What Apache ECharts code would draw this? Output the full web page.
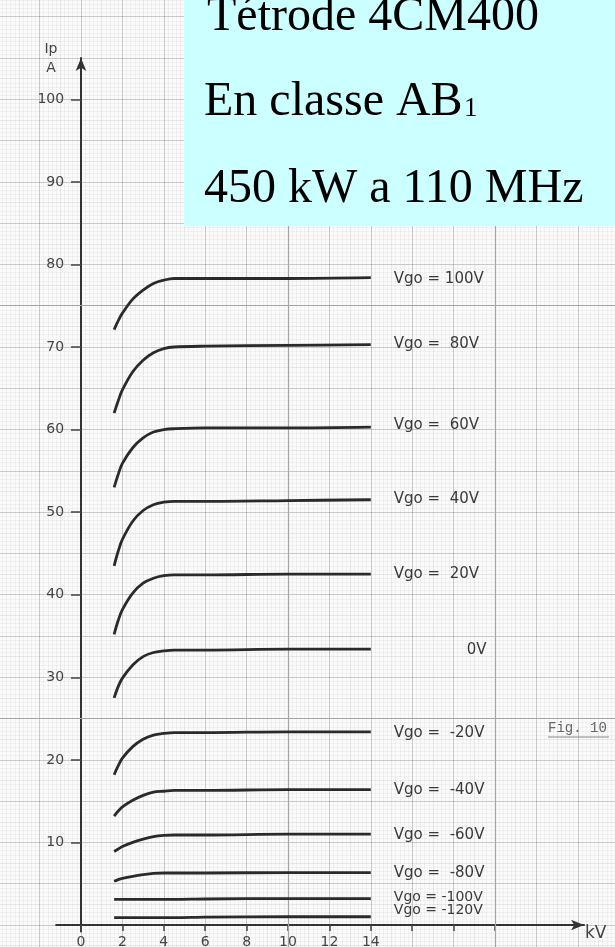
<!DOCTYPE html>
<html>
<head>
<meta charset="utf-8">
<script src="https://cdn.jsdelivr.net/npm/echarts@6/dist/echarts.min.js"></script>
<style>
html,body{margin:0;padding:0;background:#fafafa;}
#c{width:615px;height:947px;}
</style>
</head>
<body>
<div id="c"></div>
<script>
// ---- data ----
const kv = [1.6, 1.8, 2.0, 2.5, 3.0, 3.5, 4.0, 4.5, 6, 10, 14];
const ipP100 = [72.1, 73.2, 74.1, 75.8, 76.9, 77.7, 78.1, 78.3, 78.3, 78.3, 78.4];
const ipP80  = [62.0, 63.5, 64.8, 67.0, 68.4, 69.3, 69.8, 70.0, 70.1, 70.2, 70.3];
const ipP60  = [53.0, 54.6, 55.9, 57.8, 59.0, 59.7, 60.0, 60.1, 60.2, 60.2, 60.3];
const ipP40  = [43.5, 45.3, 46.7, 48.9, 50.2, 50.9, 51.2, 51.3, 51.3, 51.4, 51.5];
const ipP20  = [35.2, 36.9, 38.2, 40.2, 41.4, 42.0, 42.3, 42.4, 42.4, 42.5, 42.5];
const ip0    = [27.5, 28.9, 29.9, 31.5, 32.5, 33.0, 33.2, 33.3, 33.3, 33.4, 33.4];
const ipM20  = [18.2, 19.3, 20.2, 21.6, 22.5, 23.0, 23.2, 23.3, 23.3, 23.4, 23.4];
const ipM40  = [13.2, 13.8, 14.3, 15.1, 15.7, 16.1, 16.2, 16.3, 16.3, 16.4, 16.4];
const ipM60  = [8.9, 9.2, 9.5, 10.0, 10.4, 10.7, 10.85, 10.9, 10.9, 11.0, 11.0];
const ipM80  = [5.3, 5.5, 5.65, 5.9, 6.1, 6.25, 6.3, 6.3, 6.3, 6.35, 6.35];
const ipM100 = [3.1, 3.1, 3.1, 3.1, 3.1, 3.1, 3.1, 3.1, 3.15, 3.2, 3.2];
const ipM120 = [0.9, 0.9, 0.9, 0.9, 0.9, 0.9, 0.9, 0.9, 0.95, 1.0, 1.0];

const curves = [ipP100, ipP80, ipP60, ipP40, ipP20, ip0, ipM20, ipM40, ipM60, ipM80, ipM100, ipM120];
const curveLabels = ['Vgo = 100V', 'Vgo =  80V', 'Vgo =  60V', 'Vgo =  40V', 'Vgo =  20V', '0V',
  'Vgo =  -20V', 'Vgo =  -40V', 'Vgo =  -60V', 'Vgo =  -80V', 'Vgo = -100V', 'Vgo = -120V'];

const xTickValues = [0, 2, 4, 6, 8, 10, 12, 14, 16, 18, 20];
const xLabelValues = [0, 2, 4, 6, 8, 10, 12, 14];
const yTickValues = [10, 20, 30, 40, 50, 60, 70, 80, 90, 100];

const titleLines = ['Tétrode 4CM400', 'En classe AB', '1', '450 kW a 110 MHz'];
const figLabel = 'Fig. 10';

// ---- layout (pixel mapping) ----
const X0 = 81, KX = 20.7, Y0 = 925, KY = 8.257;
function rect(xmin, xmax, ymin, ymax) {
  return { left: X0 + xmin * KX, top: Y0 - ymax * KY, width: (xmax - xmin) * KX, height: (ymax - ymin) * KY, outerBoundsMode: 'none', containLabel: false };
}
const MAIN = { xmin: -1.2, xmax: 24.3, ymin: -0.8, ymax: 105 };
const BG = { xmin: -4, xmax: 26, ymin: -5, ymax: 115 };

const labelStyle = [
  { d: 23, o: [0, 1] }, { d: 23, o: [0, 0] }, { d: 23, o: [0, -2] }, { d: 23, o: [0, -1] },
  { d: 23, o: [0, 0] }, { d: 96, o: [0, 1] }, { d: 23, o: [0, 1] }, { d: 23, o: [0, 1] },
  { d: 23, o: [0, 1] }, { d: 23, o: [0, 1] }, { d: 23, o: [0, -1] }, { d: 23, o: [0, -6] }
];

const series = curves.map((vals, i) => ({
  type: 'line',
  name: curveLabels[i],
  xAxisIndex: 0, yAxisIndex: 0,
  data: kv.map((x, j) => [x, vals[j]]),
  smooth: 0.35,
  showSymbol: false,
  silent: true,
  z: 5,
  lineStyle: { color: '#2a2a2a', width: 2.8 },
  endLabel: {
    show: true,
    formatter: curveLabels[i],
    distance: labelStyle[i].d,
    offset: labelStyle[i].o,
    color: '#3a3a3a',
    fontFamily: 'DejaVu Sans',
    fontSize: i >= 10 ? 14 : 15
  }
}));

series.push({
  type: 'line', xAxisIndex: 2, yAxisIndex: 2, data: [], silent: true,
  markLine: {
    silent: true, symbol: 'none', label: { show: false },
    lineStyle: { color: '#a4a4a4', type: 'solid', width: 1.2 },
    data: [{ xAxis: 10 }, { xAxis: 20 }, { yAxis: 25 }, { yAxis: 75 }]
  }
});

const hiddenAxis = (idx, min, max, interval, color, minorColor) => ({
  gridIndex: idx, type: 'value', min: min, max: max, interval: interval,
  axisLine: { show: false }, axisTick: { show: false }, axisLabel: { show: false },
  splitLine: { show: true, lineStyle: { color: color, width: 1 } },
  minorTick: { show: false, splitNumber: 5 },
  minorSplitLine: { show: !!minorColor, lineStyle: { color: minorColor || 'transparent', width: 1 } }
});

const axisFont = { color: '#444', fontFamily: 'DejaVu Sans', fontSize: 14 };

const option = {
  backgroundColor: '#fafafa',
  animation: false,
  grid: [
    rect(MAIN.xmin, MAIN.xmax, MAIN.ymin, MAIN.ymax),
    rect(BG.xmin, BG.xmax, BG.ymin, BG.ymax),
    rect(BG.xmin, BG.xmax, BG.ymin, BG.ymax)
  ],
  xAxis: [
    {
      gridIndex: 0, type: 'value', min: MAIN.xmin, max: MAIN.xmax,
      name: 'kV', nameLocation: 'end', nameGap: 1,
      nameTextStyle: { color: '#444', fontFamily: 'DejaVu Sans', fontSize: 17, verticalAlign: 'top', padding: [0, 0, 0, 0] },
      axisLine: { show: true, onZero: true, symbol: ['none', 'arrow'], symbolSize: [8, 13], lineStyle: { color: '#333', width: 2 } },
      axisTick: { show: true, inside: false, length: 6, customValues: xTickValues, lineStyle: { color: '#444', width: 1.5 } },
      axisLabel: Object.assign({ show: true, margin: 4, customValues: xLabelValues }, axisFont),
      splitLine: { show: false }
    },
    hiddenAxis(1, BG.xmin, BG.xmax, 1, 'rgba(0,0,0,0.07)', 'rgba(0,0,0,0.035)'),
    hiddenAxis(2, BG.xmin, BG.xmax, 2, 'rgba(0,0,0,0.13)', null)
  ],
  yAxis: [
    {
      gridIndex: 0, type: 'value', min: MAIN.ymin, max: MAIN.ymax,
      name: 'Ip\nA', nameLocation: 'end', nameGap: -20,
      nameTextStyle: { color: '#444', fontFamily: 'DejaVu Sans', fontSize: 14, lineHeight: 19, align: 'center', verticalAlign: 'bottom', padding: [0, 60, 0, 0] },
      axisLine: { show: true, onZero: true, symbol: ['none', 'arrow'], symbolSize: [8, 13], lineStyle: { color: '#333', width: 2 } },
      axisTick: { show: true, inside: false, length: 10, customValues: yTickValues, lineStyle: { color: '#444', width: 1.5 } },
      axisLabel: Object.assign({ show: true, margin: -8, customValues: yTickValues }, axisFont),
      splitLine: { show: false }
    },
    hiddenAxis(1, BG.ymin, BG.ymax, 2.5, 'rgba(0,0,0,0.07)', 'rgba(0,0,0,0.035)'),
    hiddenAxis(2, BG.ymin, BG.ymax, 5, 'rgba(0,0,0,0.13)', null)
  ],
  series: series,
  graphic: [
    { type: 'rect', z: 100, shape: { x: 184, y: 0, width: 431, height: 226 }, style: { fill: '#ccffff' } },
    { type: 'text', z: 101, style: { x: 207, y: 17, text: titleLines[0], font: '48px "Liberation Serif"', fill: '#000', verticalAlign: 'middle' } },
    { type: 'text', z: 101, style: { x: 204, y: 102, text: titleLines[1], font: '48px "Liberation Serif"', fill: '#000', verticalAlign: 'middle' } },
    { type: 'text', z: 101, style: { x: 464, y: 109, text: titleLines[2], font: '27px "Liberation Serif"', fill: '#000', verticalAlign: 'middle' } },
    { type: 'text', z: 101, style: { x: 204, y: 189, text: titleLines[3], font: '48px "Liberation Serif"', fill: '#000', verticalAlign: 'middle' } },
    { type: 'text', z: 50, style: { x: 548, y: 728, text: figLabel, font: '14px "Liberation Mono"', fill: '#666', verticalAlign: 'middle' } },
    { type: 'line', z: 50, shape: { x1: 548, y1: 737, x2: 609, y2: 737 }, style: { stroke: '#888', lineWidth: 1 } }
  ]
};

const chart = echarts.init(document.getElementById('c'), null, { renderer: 'canvas' });
chart.setOption(option);
</script>
</body>
</html>
